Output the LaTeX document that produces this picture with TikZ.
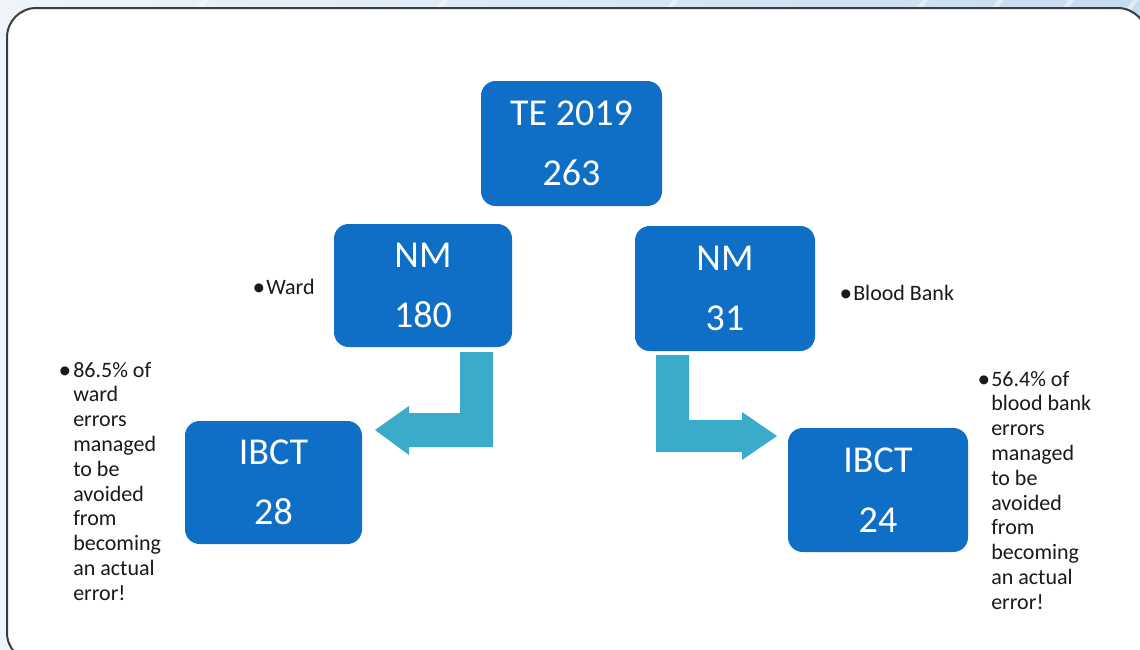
\documentclass[tikz,border=0pt]{standalone}
\usepackage{fontspec}
\setmainfont{Carlito}
\definecolor{boxblue}{HTML}{0F6FC6}
\definecolor{arrowteal}{HTML}{3AACC9}
\definecolor{txt}{HTML}{1A1A1A}
\definecolor{framecol}{HTML}{3C3C3C}
\definecolor{bgL}{HTML}{EEF4FA}
\definecolor{bgR}{HTML}{C5DBEF}
\begin{document}
\begin{tikzpicture}[x=0.75pt,y=-0.75pt,
  blockbox/.style={fill=boxblue, rounded corners=11pt, text=white, align=center,
    inner sep=0pt, font=\fontsize{28.5}{45}\selectfont},
  bendarrow/.style={fill=arrowteal, draw=none},
  note/.style={text=txt, font=\fontsize{16.5}{18.6}\selectfont, inner sep=0pt, anchor=base west},
  bul/.style={text=txt, font=\fontsize{19}{19}\selectfont, inner sep=0pt, anchor=base}]
\useasboundingbox (0,0) rectangle (1140,650);
% background
\shade[left color=bgL, right color=bgR] (0,0) rectangle (1140,650);
\foreach \sx in {180,420,650,900,975,1046,1110}{
  \fill[white, opacity=0.45] (\sx,30) -- (\sx+6,30) -- (\sx+30,-2) -- (\sx+24,-2) -- cycle;
}
% frame
\draw[framecol, fill=white, line width=1.5pt, rounded corners=22pt] (7,8) rectangle (1147,662);
% boxes
\node[blockbox, minimum width=135.75pt, minimum height=93.75pt] (te) at (571.5,143.5) {TE 2019\\263};
\node[blockbox, minimum width=133.5pt, minimum height=92.25pt] (nmL) at (423,285.5) {NM\\180};
\node[blockbox, minimum width=135pt, minimum height=93.75pt] (nmR) at (725,288.5) {NM\\31};
\node[blockbox, minimum width=132.75pt, minimum height=92.25pt] (ibL) at (273.5,482.5) {IBCT\\28};
\node[blockbox, minimum width=135pt, minimum height=93pt] (ibR) at (878,490) {IBCT\\24};
% bent arrows
\fill[bendarrow] (460,352) -- (493,352) -- (493,447) -- (409,447) -- (409,455) -- (375,430)
  -- (409,406) -- (409,413) -- (460,413) -- cycle;
\fill[bendarrow] (656,355) -- (689,355) -- (689,420) -- (742,420) -- (742,412) -- (777,436)
  -- (742,460) -- (742,452) -- (656,452) -- cycle;
% notes
\node[bul] (wardb) at (259,295) {•};
\node[note] (ward) at (266,294) {Ward};
\node[bul] (bbb) at (846,301) {•};
\node[note] (bb) at (853,300) {Blood Bank};
\node[bul] (noteLb) at (65,378) {•};
\node[note] (noteL) at (73,377) {\parbox[t]{90pt}{\raggedright
  86.5\% of\\ward\\errors\\managed\\to be\\avoided\\from\\becoming\\an actual\\error!}};
\node[bul] (noteRb) at (984,387) {•};
\node[note] (noteR) at (991,386) {\parbox[t]{90pt}{\raggedright
  56.4\% of\\blood bank\\errors\\managed\\to be\\avoided\\from\\becoming\\an actual\\error!}};
\end{tikzpicture}
\end{document}
